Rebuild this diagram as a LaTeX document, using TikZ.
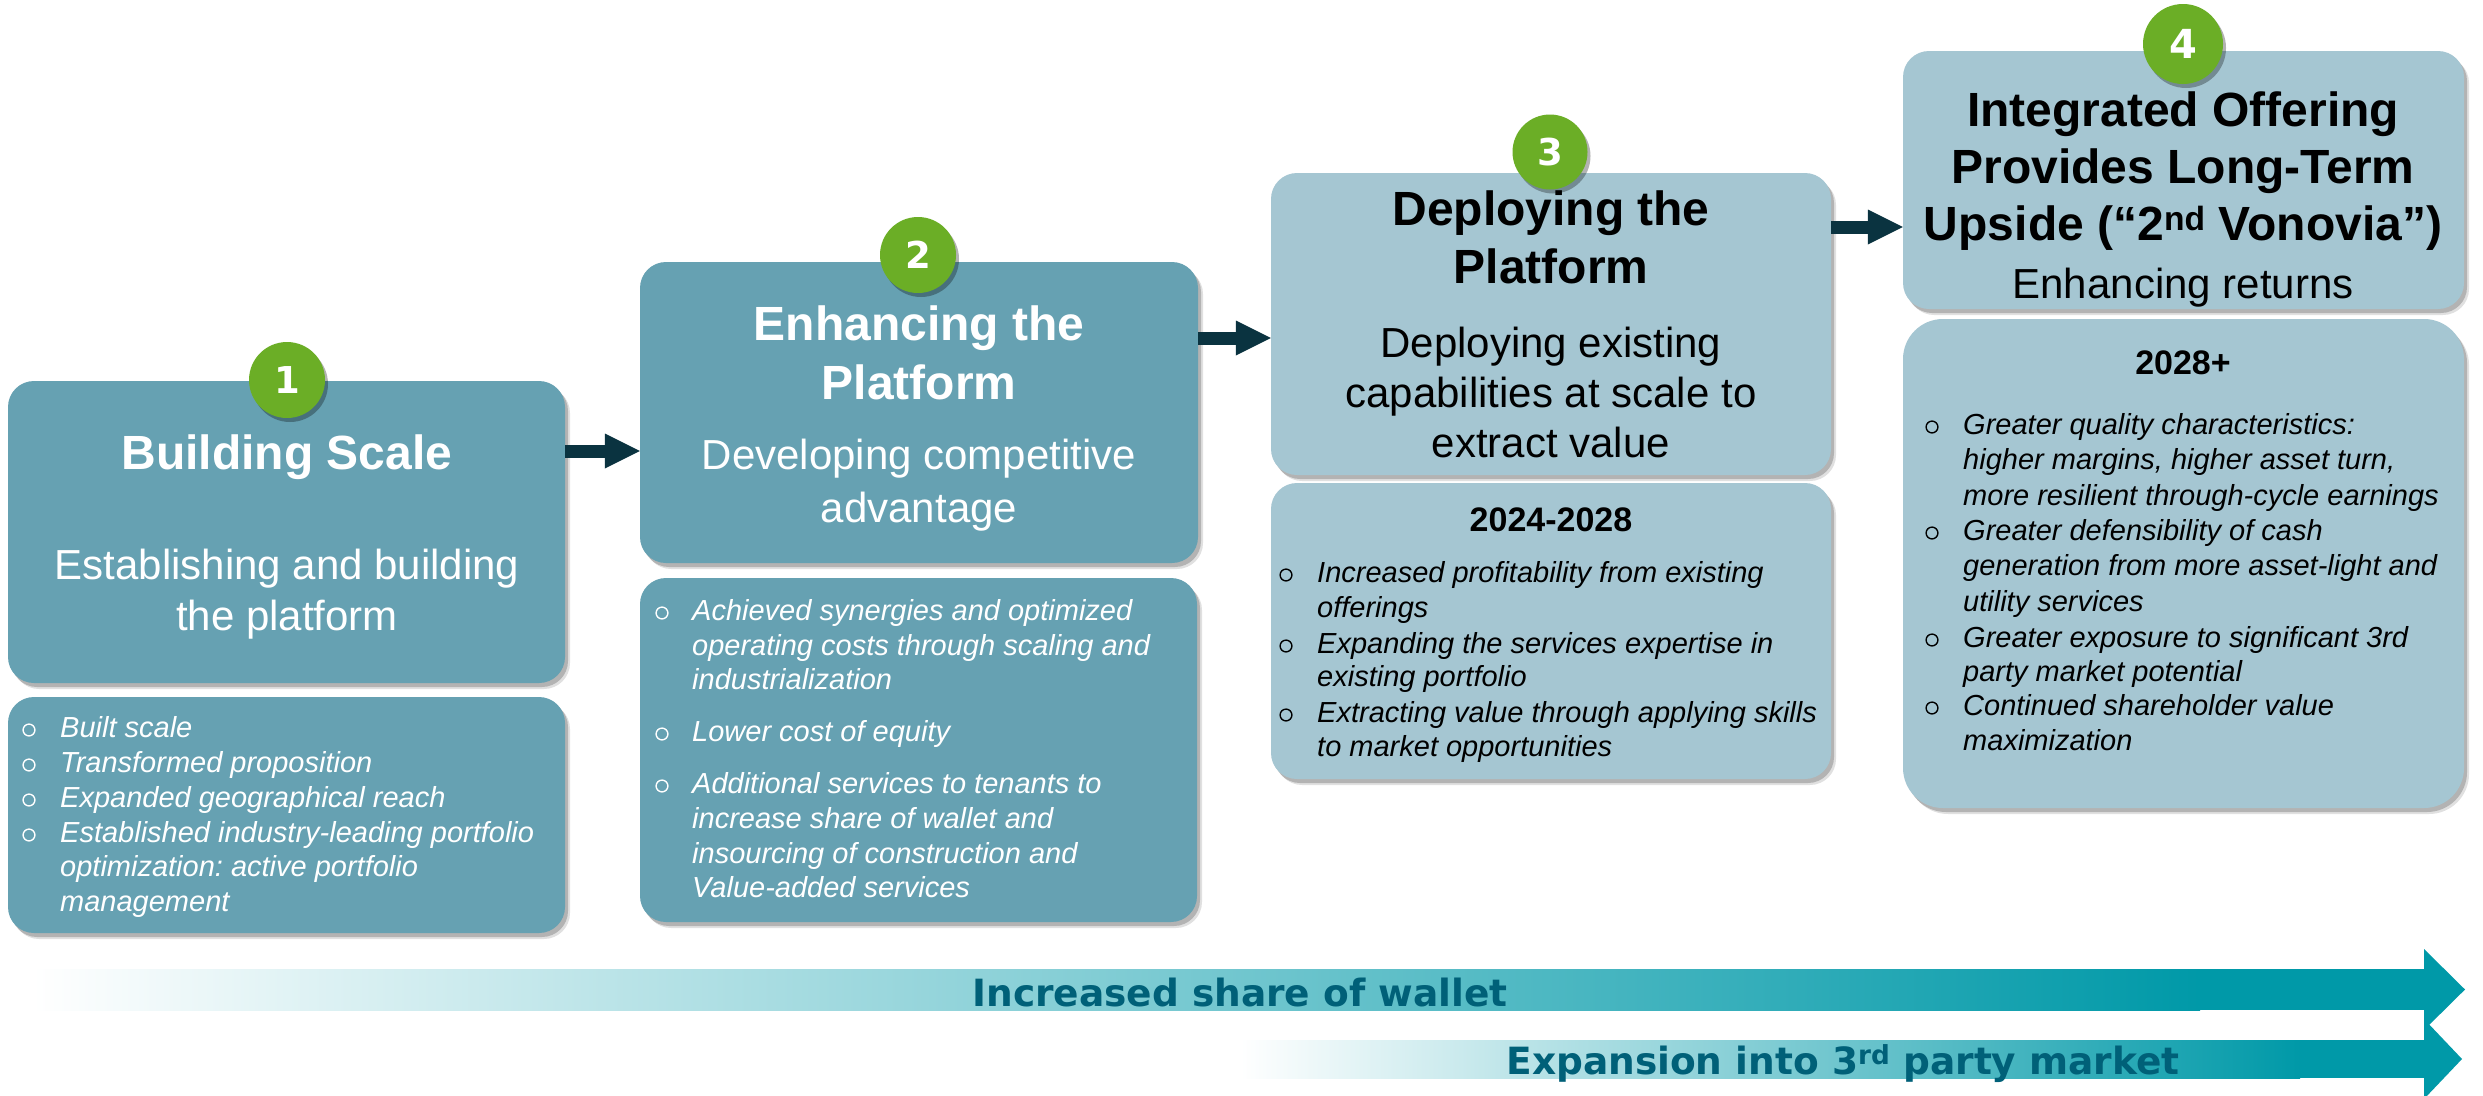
\documentclass[tikz,border=0pt]{standalone}
\usepackage{fontspec}
\setmainfont{Liberation Sans}
\newfontfamily\dvs{DejaVu Sans}
\usetikzlibrary{shadows,arrows.meta}
\frenchspacing
\definecolor{boxdark}{HTML}{66A1B2}
\definecolor{boxlight}{HTML}{A5C6D2}
\definecolor{grn}{HTML}{6BAE26}
\definecolor{arrdark}{HTML}{0A3340}
\definecolor{tealc}{HTML}{0099A8}
\definecolor{tealtxt}{HTML}{006078}
\tikzset{
  hbox/.style={rectangle, rounded corners=26pt, inner sep=0pt, draw=none,
    drop shadow={shadow xshift=5pt, shadow yshift=-6pt, opacity=0.12, fill=black},
    drop shadow={shadow xshift=3pt, shadow yshift=-4pt, opacity=0.2, fill=black}},
  darkbox/.style={hbox, fill=boxdark},
  lightbox/.style={hbox, fill=boxlight},
  numcirc/.style={circle, fill=grn, inner sep=0pt, text=white,
    font=\dvs\bfseries\fontsize{37}{37}\selectfont,
    drop shadow={shadow xshift=3pt, shadow yshift=-4pt, opacity=0.3, fill=black}},
  ttl/.style={anchor=base, inner sep=0pt, font=\bfseries\fontsize{48}{57}\selectfont},
  subt/.style={anchor=base, inner sep=0pt, font=\fontsize{42}{50}\selectfont},
  yr/.style={anchor=base, inner sep=0pt, font=\bfseries\fontsize{34}{40}\selectfont},
  bl/.style={anchor=base west, inner sep=0pt, font=\itshape\fontsize{29}{35}\selectfont},
  bul/.style={circle, draw, line width=1.4pt, minimum size=11.8pt, inner sep=0pt},
  flow/.style={draw=arrdark, line width=13pt,
    -{Triangle[length=35pt, width=35pt, line width=0pt]}},
  bigtxt/.style={anchor=base, inner sep=0pt, text=tealtxt,
    font=\dvs\bfseries\fontsize{37.5}{40}\selectfont},
}
\begin{document}
\begin{tikzpicture}[x=1pt, y=-1pt]
\useasboundingbox (0,0) rectangle (2483,1095);
\fill[white] (0,0) rectangle (2483,1095);

% ---------- bottom arrows ----------
\fill[left color=white, right color=tealc, draw=none] (32,969) rectangle (2200,1010);
\fill[tealc] (2199,969) rectangle (2425,1010);
\fill[tealc] (2424,949) -- (2465,989.5) -- (2424,1030) -- cycle;
\fill[left color=white, right color=tealc, draw=none] (1240,1040) rectangle (2300,1078);
\fill[tealc] (2299,1040) rectangle (2425,1078);
\fill[tealc] (2424,1019) -- (2462,1059) -- (2424,1099) -- cycle;
\node[bigtxt] (w1) at (1240,1006) {Increased share of wallet};
\node[bigtxt] (w2) at (1843,1074) {Expansion into 3\textsuperscript{rd} party market};

% ---------- boxes ----------
\node[darkbox, minimum width=557pt, minimum height=302pt] (h1) at (286.5,532) {};
\node[darkbox, minimum width=557pt, minimum height=236pt] (b1) at (286.5,815) {};
\node[darkbox, minimum width=558pt, minimum height=301pt] (h2) at (919,412.5) {};
\node[darkbox, minimum width=557pt, minimum height=344pt] (b2) at (918.5,750) {};
\node[lightbox, minimum width=560pt, minimum height=302pt] (h3) at (1551,324) {};
\node[lightbox, minimum width=560pt, minimum height=296pt] (b3) at (1551,631) {};
\node[lightbox, minimum width=561pt, minimum height=258pt] (h4) at (2183.5,180) {};
\node[lightbox, rounded corners=40pt, minimum width=561pt, minimum height=489pt] (b4) at (2183.5,563.5) {};

% ---------- connectors ----------
\coordinate (y12) at (0,451);
\coordinate (y23) at (0,338);
\coordinate (y34) at (0,227);
\draw[flow] (h1.east |- y12) -- (h2.west |- y12);
\draw[flow] (h2.east |- y23) -- (h3.west |- y23);
\draw[flow] (h3.east |- y34) -- (h4.west |- y34);

% ---------- number circles ----------
\node[numcirc, minimum size=76pt] (c1) at (287,380) {1};
\node[numcirc, minimum size=76pt] (c2) at (918,255) {2};
\node[numcirc, minimum size=75pt] (c3) at (1550,152) {3};
\node[numcirc, minimum size=80pt, font=\dvs\bfseries\fontsize{40}{40}\selectfont] (c4) at (2183,44) {4};

% ---------- box 1 ----------
\node[ttl, text=white] (t1) at (287,469) {Building Scale};
\node[subt, text=white] (s1a) at (287,579) {Establishing and building};
\node[subt, text=white] (s1b) at (287,630) {the platform};
\node[bl, text=white] (l1a) at (60,737) {Built scale};
\node[bl, text=white] (l1b) at (60,772) {Transformed proposition};
\node[bl, text=white] (l1c) at (60,807) {Expanded geographical reach};
\node[bl, text=white] (l1d) at (60,842) {Established industry-leading portfolio};
\node[bl, text=white] (l1e) at (60,876) {optimization: active portfolio};
\node[bl, text=white] (l1f) at (60,911) {management};
\node[bul, draw=white] (u1a) at (29,730) {};
\node[bul, draw=white] (u1b) at (29,765) {};
\node[bul, draw=white] (u1c) at (29,800) {};
\node[bul, draw=white] (u1d) at (29,835) {};

% ---------- box 2 ----------
\node[ttl, text=white] (t2a) at (919,340) {Enhancing the};
\node[ttl, text=white] (t2b) at (919,399) {Platform};
\node[subt, text=white] (s2a) at (919,469) {Developing competitive};
\node[subt, text=white] (s2b) at (919,522) {advantage};
\node[bl, text=white] (l2a) at (692,620) {Achieved synergies and optimized};
\node[bl, text=white] (l2b) at (692,655) {operating costs through scaling and};
\node[bl, text=white] (l2c) at (692,689) {industrialization};
\node[bl, text=white] (l2d) at (692,741) {Lower cost of equity};
\node[bl, text=white] (l2e) at (692,793) {Additional services to tenants to};
\node[bl, text=white] (l2f) at (692,828) {increase share of wallet and};
\node[bl, text=white] (l2g) at (692,863) {insourcing of construction and};
\node[bl, text=white] (l2h) at (692,897) {Value-added services};
\node[bul, draw=white] (u2a) at (662,613) {};
\node[bul, draw=white] (u2b) at (662,734) {};
\node[bul, draw=white] (u2c) at (662,786) {};

% ---------- box 3 ----------
\node[ttl] (t3a) at (1551,225) {Deploying the};
\node[ttl] (t3b) at (1551,283) {Platform};
\node[subt] (s3a) at (1551,357) {Deploying existing};
\node[subt] (s3b) at (1551,407) {capabilities at scale to};
\node[subt] (s3c) at (1551,457) {extract value};
\node[yr] (y3) at (1551,531) {2024-2028};
\node[bl] (l3a) at (1317,582) {Increased profitability from existing};
\node[bl] (l3b) at (1317,617) {offerings};
\node[bl] (l3c) at (1317,653) {Expanding the services expertise in};
\node[bl] (l3d) at (1317,686) {existing portfolio};
\node[bl] (l3e) at (1317,722) {Extracting value through applying skills};
\node[bl] (l3f) at (1317,756) {to market opportunities};
\node[bul, draw=black] (u3a) at (1286,575) {};
\node[bul, draw=black] (u3b) at (1286,646) {};
\node[bul, draw=black] (u3c) at (1286,715) {};

% ---------- box 4 ----------
\node[ttl] (t4a) at (2183,126) {Integrated Offering};
\node[ttl] (t4b) at (2183,183) {Provides Long-Term};
\node[ttl] (t4c) at (2183,240) {Upside (“2\textsuperscript{nd} Vonovia”)};
\node[subt] (s4) at (2183,298) {Enhancing returns};
\node[yr] (y4) at (2183,374) {2028+};
\node[bl] (l4a) at (1963,434) {Greater quality characteristics:};
\node[bl] (l4b) at (1963,469) {higher margins, higher asset turn,};
\node[bl] (l4c) at (1963,505) {more resilient through-cycle earnings};
\node[bl] (l4d) at (1963,540) {Greater defensibility of cash};
\node[bl] (l4e) at (1963,575) {generation from more asset-light and};
\node[bl] (l4f) at (1963,611) {utility services};
\node[bl] (l4g) at (1963,647) {Greater exposure to significant 3rd};
\node[bl] (l4h) at (1963,681) {party market potential};
\node[bl] (l4i) at (1963,715) {Continued shareholder value};
\node[bl] (l4j) at (1963,750) {maximization};
\node[bul, draw=black] (u4a) at (1932,427) {};
\node[bul, draw=black] (u4b) at (1932,533) {};
\node[bul, draw=black] (u4c) at (1932,640) {};
\node[bul, draw=black] (u4d) at (1932,708) {};
\end{tikzpicture}
\end{document}
